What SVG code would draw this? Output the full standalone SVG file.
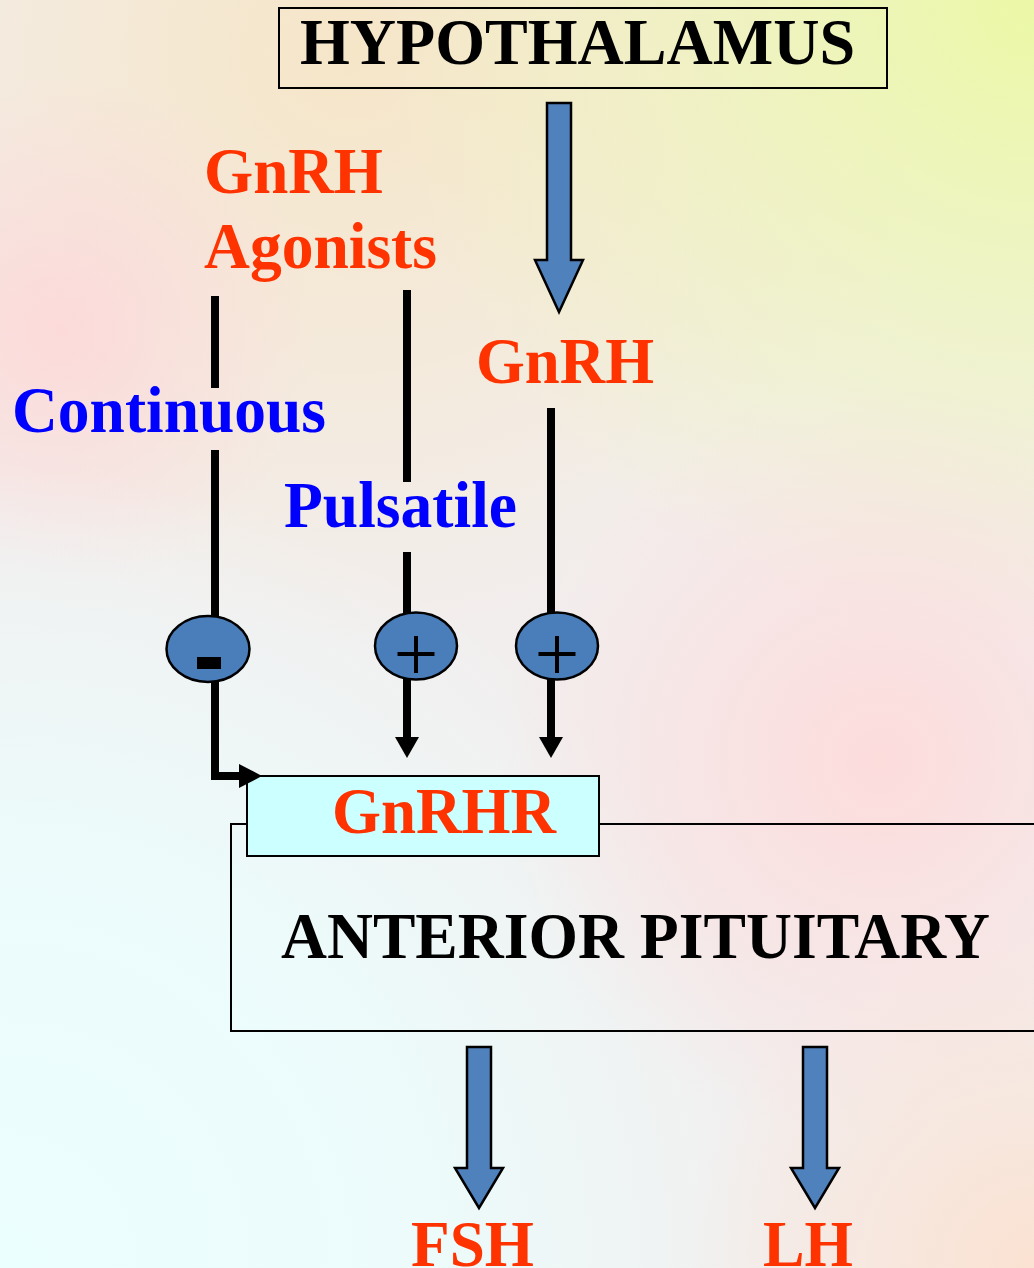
<svg xmlns="http://www.w3.org/2000/svg" width="1034" height="1268" viewBox="0 0 1034 1268">
<defs>
<style>
.t{font-family:"Liberation Serif","Times New Roman",serif;font-weight:bold;font-size:66px}
.red{fill:#ff3300}
.blue{fill:#0000ff}
.blk{fill:#000}
.ln{stroke:#000;stroke-width:8;fill:none}
.big{fill:#4f81bd;stroke:#000;stroke-width:2.5;stroke-linejoin:miter}
.ell{fill:#4a7ebb;stroke:#000;stroke-width:2.5}
.box{stroke:#000;stroke-width:2}
</style>
<radialGradient id="gYel" cx="1034" cy="0" r="650" gradientUnits="userSpaceOnUse">
<stop offset="0" stop-color="#ecf8a6"/>
<stop offset="1" stop-color="#ecf8a6" stop-opacity="0"/>
</radialGradient>
<radialGradient id="gPeach" cx="350" cy="50" r="600" gradientUnits="userSpaceOnUse">
<stop offset="0" stop-color="#f6e6c8"/>
<stop offset="1" stop-color="#f6e6c8" stop-opacity="0"/>
</radialGradient>
<radialGradient id="gCyan" cx="0" cy="1268" r="800" gradientUnits="userSpaceOnUse">
<stop offset="0" stop-color="#ecffff"/>
<stop offset="0.55" stop-color="#ecfcfc" stop-opacity="0.9"/>
<stop offset="1" stop-color="#ecfcfc" stop-opacity="0"/>
</radialGradient>
<radialGradient id="gPink" cx="880" cy="760" r="380" gradientUnits="userSpaceOnUse">
<stop offset="0" stop-color="#fddcdc"/>
<stop offset="1" stop-color="#fddcdc" stop-opacity="0"/>
</radialGradient>
<radialGradient id="gPinkL" cx="60" cy="330" r="260" gradientUnits="userSpaceOnUse">
<stop offset="0" stop-color="#fcdada"/>
<stop offset="1" stop-color="#fcdada" stop-opacity="0"/>
</radialGradient>
<radialGradient id="gPeachBR" cx="1034" cy="1268" r="350" gradientUnits="userSpaceOnUse">
<stop offset="0" stop-color="#fbe2d2"/>
<stop offset="1" stop-color="#fbe2d2" stop-opacity="0"/>
</radialGradient>
</defs>

<g id="background">
<rect width="1034" height="1268" fill="#f2eeee"/>
<rect width="1034" height="1268" fill="url(#gPeach)"/>
<rect width="1034" height="1268" fill="url(#gYel)"/>
<rect width="1034" height="1268" fill="url(#gPinkL)"/>
<rect width="1034" height="1268" fill="url(#gCyan)"/>
<rect width="1034" height="1268" fill="url(#gPink)"/>
<rect width="1034" height="1268" fill="url(#gPeachBR)"/>
</g>

<g id="node-hypothalamus">
<rect x="279" y="8" width="608" height="80" fill="none" class="box"/>
<text class="t blk" x="300" y="64" textLength="555" lengthAdjust="spacingAndGlyphs">HYPOTHALAMUS</text>
</g>

<g id="node-anterior-pituitary">
<path d="M1036 824 H231 V1031 H1036" fill="none" class="box"/>
<text class="t blk" x="281" y="958" textLength="709" lengthAdjust="spacingAndGlyphs">ANTERIOR PITUITARY</text>
</g>

<g id="node-gnrhr">
<rect x="247" y="776" width="352" height="80" fill="#ccffff" class="box"/>
<text class="t red" x="332" y="833" textLength="224" lengthAdjust="spacingAndGlyphs">GnRHR</text>
</g>

<g id="label-gnrh-agonists">
<text class="t red" x="204" y="193" textLength="179" lengthAdjust="spacingAndGlyphs">GnRH</text>
<text class="t red" x="204" y="268" textLength="233" lengthAdjust="spacingAndGlyphs">Agonists</text>
</g>
<g id="label-gnrh">
<text class="t red" x="476" y="383" textLength="178" lengthAdjust="spacingAndGlyphs">GnRH</text>
</g>
<g id="label-continuous">
<text class="t blue" x="12" y="432" textLength="314" lengthAdjust="spacingAndGlyphs">Continuous</text>
</g>
<g id="label-pulsatile">
<text class="t blue" x="284" y="527" textLength="233" lengthAdjust="spacingAndGlyphs">Pulsatile</text>
</g>
<g id="node-fsh">
<text class="t red" x="411" y="1266" textLength="123" lengthAdjust="spacingAndGlyphs">FSH</text>
</g>
<g id="node-lh">
<text class="t red" x="763" y="1266" textLength="90" lengthAdjust="spacingAndGlyphs">LH</text>
</g>

<g id="connectors">
<polygon class="big" points="547,103 571,103 571,260 583,260 559,312 535,260 547,260"/>
<polygon class="big" points="467,1047 491,1047 491,1168 503,1168 479,1208 455,1168 467,1168"/>
<polygon class="big" points="803,1047 827,1047 827,1168 839,1168 815,1208 791,1168 803,1168"/>

<line class="ln" x1="215" y1="296" x2="215" y2="388"/>
<line class="ln" x1="215" y1="450" x2="215" y2="620"/>
<path class="ln" d="M215 680 V776 H242" stroke-linejoin="miter"/>
<polygon points="239,764 262,776 239,788" fill="#000"/>

<line class="ln" x1="407" y1="290" x2="407" y2="482"/>
<line class="ln" x1="407" y1="552" x2="407" y2="615"/>
<line class="ln" x1="407" y1="676" x2="407" y2="740"/>
<polygon points="395,737 419,737 407,758" fill="#000"/>

<line class="ln" x1="551" y1="408" x2="551" y2="615"/>
<line class="ln" x1="551" y1="676" x2="551" y2="740"/>
<polygon points="539,737 563,737 551,758" fill="#000"/>
</g>

<g id="node-minus">
<ellipse class="ell" cx="208" cy="649" rx="41.5" ry="33"/>
<rect x="197" y="657" width="24" height="12" fill="#000"/>
</g>
<g id="node-plus-1">
<ellipse class="ell" cx="416" cy="646" rx="41" ry="33.5"/>
<path d="M397.5 654 H434.5 M416 636 V673" stroke="#000" stroke-width="4"/>
</g>
<g id="node-plus-2">
<ellipse class="ell" cx="557" cy="646" rx="41" ry="33.5"/>
<path d="M538.5 654 H575.5 M557 636 V673" stroke="#000" stroke-width="4"/>
</g>
</svg>
